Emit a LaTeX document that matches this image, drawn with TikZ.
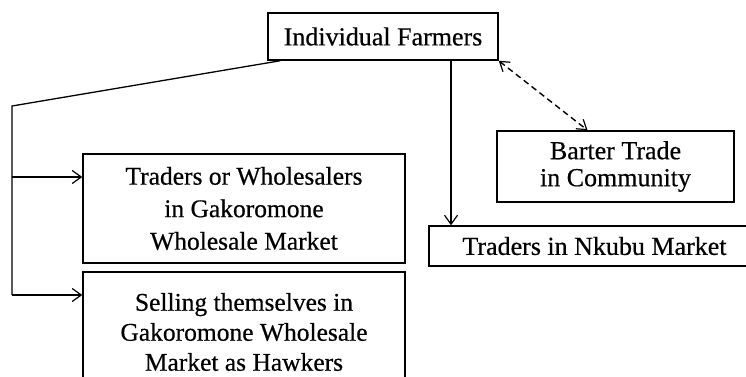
\documentclass[tikz,border=0pt]{standalone}
\usepackage{fontspec}
\setmainfont{Liberation Serif}[RawFeature={embolden=0.5}]
\usetikzlibrary{arrows.meta}
\begin{document}
\begin{tikzpicture}[x=1pt,y=-1pt,
  box/.style={draw,line width=1.5pt,inner sep=0pt,align=center,
    font=\fontsize{26}{32}\selectfont},
  link/.style={line width=1.3pt,-{Straight Barb[length=9pt,width=13pt,line width=1.2pt]}},
  twoway/.style={line width=1.4pt,dash pattern=on 6pt off 4pt,
    {Straight Barb[length=9pt,width=12pt,line width=1.2pt]}-{Straight Barb[length=9pt,width=12pt,line width=1.2pt]}}]
\useasboundingbox (0,0) rectangle (746,377);
\clip (0,0) rectangle (746,377);

% boxes
\node[box,minimum width=230pt,minimum height=47pt] (farmers) at (383,36.5) {Individual Farmers};
\node[box,minimum width=322pt,minimum height=109pt,font=\fontsize{25.5}{32.5}\selectfont] (wholesale) at (244,208.5)
  {Traders or Wholesalers\\in Gakoromone\\Wholesale Market};
\node[box,minimum width=322pt,minimum height=120pt,font=\fontsize{25.5}{30}\selectfont] (hawkers) at (244,332)
  {Selling themselves in\\Gakoromone Wholesale\\Market as Hawkers};
\node[box,minimum width=237pt,minimum height=71pt,font=\fontsize{26}{27}\selectfont] (barter) at (615.5,166.5)
  {Barter Trade\\in Community};
\node[box,minimum width=331pt,minimum height=40pt,font=\fontsize{26}{30}\selectfont] (nkubu) at (594.5,246)
  {Traders in Nkubu Market};

% connectors
\coordinate (bend) at (12,106);
\draw[line width=1.3pt,line join=miter] ([xshift=13pt]farmers.south west) -- (bend) -- (bend |- 0,295);
\draw[link] (bend |- 0,177) -- (wholesale.west |- 0,177);
\draw[link] (bend |- 0,295) -- (hawkers.west |- 0,295);
\draw[link] (farmers.south -| 451,0) -- (nkubu.north -| 451,0);
\draw[twoway] (farmers.south east) -- ([xshift=-28pt]barter.north);
\end{tikzpicture}
\end{document}
